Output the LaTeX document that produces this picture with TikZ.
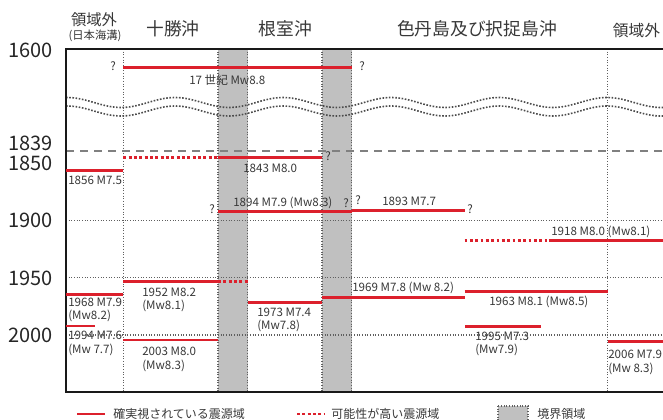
\documentclass[tikz,border=0pt]{standalone}
\usepackage{fontspec}
\setmainfont{Noto Sans CJK JP}
\definecolor{eqred}{RGB}{220,32,44}
\definecolor{txt}{RGB}{55,55,55}
\definecolor{bandgray}{RGB}{192,192,192}
\definecolor{gridc}{RGB}{95,95,95}
\begin{document}
\begin{tikzpicture}[x=0.75pt,y=-0.75pt,
  sure/.style={draw=eqred, line width=2.2pt},
  likely/.style={draw=eqred, line width=2.2pt, dash pattern=on 2.2pt off 1.8pt},
  gridline/.style={draw=gridc, line width=0.8pt, dash pattern=on 0.8pt off 1.2pt},
  periodline/.style={draw=black!50, line width=1pt, dash pattern=on 6pt off 4.5pt},
  frameline/.style={draw=black!90, line width=1.6pt},
  waveline/.style={draw=black!70, line width=1.2pt, dash pattern=on 1.2pt off 1.2pt},
  lbl/.style={anchor=west, inner sep=0pt, text=txt, font=\fontsize{8.7}{10}\selectfont},
  qm/.style={inner sep=0pt, text=txt, font=\fontsize{8.7}{10}\selectfont},
  yearlbl/.style={anchor=east, inner sep=0pt, text=black!85, font=\fontsize{15}{16}\selectfont},
  head/.style={inner sep=0pt, text=txt, font=\fontsize{13.3}{14}\selectfont},
  legtext/.style={anchor=west, inner sep=0pt, text=txt, font=\fontsize{9}{10}\selectfont},
  bandfill/.style={fill=bandgray}
]
\useasboundingbox (0,0) rectangle (663,420);

% boundary bands
\fill[bandfill] (218,49) rectangle (247.7,392);
\fill[bandfill] (322,49) rectangle (351.7,392);

% headers
\node[head, font=\fontsize{11.5}{12}\selectfont] (h1) at (94,20) {領域外};
\node[head, font=\fontsize{8.5}{9}\selectfont] (h1b) at (95,36) {(日本海溝)};
\node[head] (h2) at (173,29) {十勝沖};
\node[head] (h3) at (285.5,29) {根室沖};
\node[head] (h4) at (477,29) {色丹島及び択捉島沖};
\node[head, font=\fontsize{11.8}{12}\selectfont] (h5) at (636.5,31) {領域外};

% year labels
\node[yearlbl] (y1600) at (53,50) {1600};
\node[yearlbl] (y1839) at (53,143) {1839};
\node[yearlbl] (y1850) at (53,163.5) {1850};
\node[yearlbl] (y1900) at (53,220) {1900};
\node[yearlbl] (y1950) at (53,278) {1950};
\node[yearlbl] (y2000) at (53,335) {2000};

% event labels
\node[lbl] (t17) at (189,80) {17 世紀 Mw8.8};
\node[qm] (q17a) at (113,66) {?};
\node[qm] (q17b) at (362,66) {?};
\node[lbl] (t1856) at (68,180) {1856 M7.5};
\node[lbl] (t1843) at (243,168) {1843 M8.0};
\node[qm] (q1843) at (328,156) {?};
\node[lbl] (t1894) at (233,203) {1894 M7.9 (Mw8.3)};
\node[qm] (q1894a) at (212,209) {?};
\node[qm] (q1894b) at (346,203) {?};
\node[qm] (q1893a) at (358,200) {?};
\node[lbl] (t1893) at (382,201) {1893 M7.7};
\node[qm] (q1893b) at (470,209) {?};
\node[lbl] (t1918) at (551,232) {1918 M8.0 (Mw8.1)};
\node[lbl, align=left] (t1952) at (142,300) {1952 M8.2\\(Mw8.1)};
\node[lbl, align=left] (t1968) at (68,310) {1968 M7.9\\(Mw8.2)};
\node[lbl, align=left] (t1994) at (68,343.5) {1994 M7.6\\(Mw 7.7)};
\node[lbl, align=left] (t2003) at (142,359.5) {2003 M8.0\\(Mw8.3)};
\node[lbl, align=left] (t1973) at (257,320) {1973 M7.4\\(Mw7.8)};
\node[lbl] (t1969) at (352,288) {1969 M7.8 (Mw 8.2)};
\node[lbl] (t1963) at (489,302) {1963 M8.1 (Mw8.5)};
\node[lbl, align=left] (t1995) at (475,344) {1995 M7.3\\(Mw7.9)};
\node[lbl, align=left] (t2006) at (608,362.5) {2006 M7.9\\(Mw 8.3)};

% grid coordinates
\coordinate (gL1900) at (66,220.7);  \coordinate (gR1900) at (663,220.7);
\coordinate (gL1950) at (66,277.3);  \coordinate (gR1950) at (663,277.3);
\coordinate (gL2000) at (66,335);    \coordinate (gR2000) at (663,335);
\coordinate (pL1839) at (66,151);    \coordinate (pR1839) at (663,151);
\foreach \n/\xx in {v1/123.3, v2/607.7, b1/218, b2/247.7, b3/322, b4/351.7} {
  \coordinate (\n t) at (\xx,49);
  \coordinate (\n b) at (\xx,392);
}
\draw[gridline] (gL1900) -- (gR1900);
\draw[gridline] (gL1950) -- (gR1950);
\draw[gridline] (gL2000) -- (gR2000);
\foreach \n in {v1,v2,b1,b2,b3,b4} { \draw[gridline] (\n t) -- (\n b); }
\draw[periodline] (pL1839) -- (pR1839);

% break (wavy) lines
\draw[waveline] plot[domain=66:663, samples=160] (\x, {102.5-5*cos(3.3333*(\x-607))});
\draw[waveline] plot[domain=66:663, samples=160] (\x, {111-5*cos(3.3333*(\x-607))});

% frame
\coordinate (fTL) at (66,49); \coordinate (fTR) at (663,49);
\coordinate (fBL) at (66,392); \coordinate (fBR) at (663,392);
\draw[frameline] (fTR) -- (fTL) -- (fBL) -- (fBR);

% source areas
\coordinate (e17a) at (123.3,67.3);  \coordinate (e17b) at (351.7,67.3);
\draw[sure] (e17a) -- (e17b);
\coordinate (e1856a) at (66,170.3);  \coordinate (e1856b) at (123.3,170.3);
\draw[sure] (e1856a) -- (e1856b);
\coordinate (e1843a) at (123.3,157.3); \coordinate (e1843m) at (218,157.3); \coordinate (e1843b) at (322,157.3);
\draw[likely] (e1843a) -- (e1843m);
\draw[sure] (e1843m) -- (e1843b);
\coordinate (e1894a) at (218,211.7); \coordinate (e1894b) at (351.7,211.7);
\draw[sure] (e1894a) -- (e1894b);
\coordinate (e1893a) at (351.7,210.7); \coordinate (e1893b) at (464.5,210.7);
\draw[sure] (e1893a) -- (e1893b);
\coordinate (e1918a) at (464.5,240.5); \coordinate (e1918m) at (548.5,240.5); \coordinate (e1918b) at (663,240.5);
\draw[likely] (e1918a) -- (e1918m);
\draw[sure] (e1918m) -- (e1918b);
\coordinate (e1952a) at (123.3,281.7); \coordinate (e1952m) at (218,281.7); \coordinate (e1952b) at (247.7,281.7);
\draw[sure] (e1952a) -- (e1952m);
\draw[likely] (e1952m) -- (e1952b);
\coordinate (e1968a) at (66,294.3); \coordinate (e1968b) at (123.3,294.3);
\draw[sure] (e1968a) -- (e1968b);
\coordinate (e1994a) at (66,326); \coordinate (e1994b) at (95,326);
\draw[sure] (e1994a) -- (e1994b);
\coordinate (e2003a) at (123.3,340); \coordinate (e2003b) at (218,340);
\draw[sure] (e2003a) -- (e2003b);
\coordinate (e1973a) at (247.7,302.3); \coordinate (e1973b) at (322,302.3);
\draw[sure] (e1973a) -- (e1973b);
\coordinate (e1969a) at (322,297.3); \coordinate (e1969b) at (464.5,297.3);
\draw[sure] (e1969a) -- (e1969b);
\coordinate (e1963a) at (464.5,291.7); \coordinate (e1963b) at (607.7,291.7);
\draw[sure] (e1963a) -- (e1963b);
\coordinate (e1995a) at (465,326.7); \coordinate (e1995b) at (540.7,326.7);
\draw[sure] (e1995a) -- (e1995b);
\coordinate (e2006a) at (607.7,341.7); \coordinate (e2006b) at (663,341.7);
\draw[sure] (e2006a) -- (e2006b);

% legend
\coordinate (l1a) at (77,414); \coordinate (l1b) at (105,414);
\draw[sure] (l1a) -- (l1b);
\node[legtext] (lt1) at (113,414) {確実視されている震源域};
\coordinate (l2a) at (297,414); \coordinate (l2b) at (325,414);
\draw[likely] (l2a) -- (l2b);
\node[legtext] (lt2) at (331,414) {可能性が高い震源域};
\filldraw[bandfill, gridline] (498,406) rectangle (528,422);
\node[legtext] (lt3) at (537,414) {境界領域};
\end{tikzpicture}
\end{document}
